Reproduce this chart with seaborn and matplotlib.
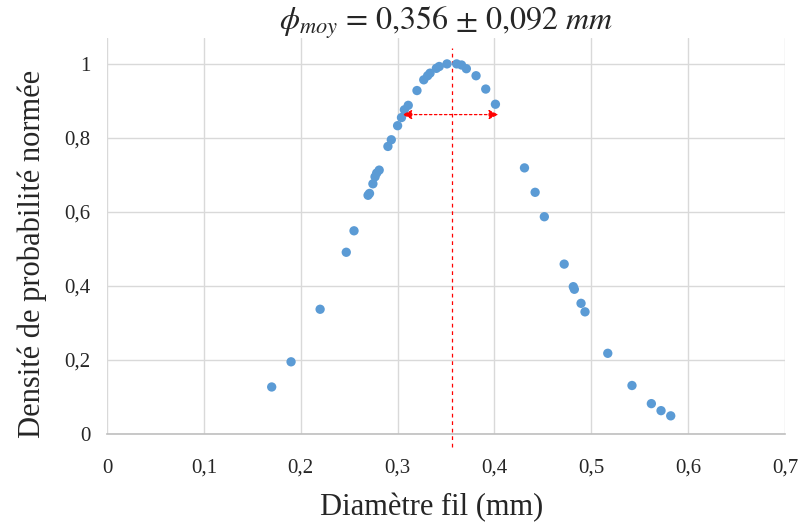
import numpy as np
import pandas as pd
import matplotlib
matplotlib.use("Agg")
import matplotlib.pyplot as plt
from matplotlib.ticker import FuncFormatter, MultipleLocator
import seaborn as sns

# donnees
diametre = [0.170, 0.190, 0.220, 0.247, 0.255, 0.2695, 0.271, 0.2745, 0.2767, 0.2784, 0.281,
            0.290, 0.2935, 0.300, 0.304, 0.307, 0.311, 0.320, 0.327, 0.331, 0.3335,
            0.340, 0.343, 0.351, 0.361, 0.366, 0.371, 0.381, 0.391, 0.401,
            0.431, 0.442, 0.4515, 0.472, 0.4814, 0.4825, 0.4894, 0.4935, 0.517,
            0.542, 0.562, 0.572, 0.582]
densite = [0.127, 0.195, 0.337, 0.491, 0.549, 0.645, 0.650, 0.676, 0.695, 0.705, 0.713,
           0.777, 0.795, 0.833, 0.855, 0.876, 0.888, 0.928, 0.957, 0.968, 0.975,
           0.988, 0.993, 1.000, 1.000, 0.997, 0.987, 0.968, 0.932, 0.891,
           0.719, 0.653, 0.587, 0.459, 0.398, 0.391, 0.353, 0.330, 0.218,
           0.131, 0.082, 0.063, 0.049]
phi_moy = 0.356
ecart = [0.305, 0.404]
y_fleche = 0.863

df = pd.DataFrame({"d": diametre, "p": densite})

sns.set_style("whitegrid")
plt.rcParams["font.family"] = ["Liberation Serif", "DejaVu Serif"]
plt.rcParams["mathtext.fontset"] = "stix"

fig = plt.figure(figsize=(8.03, 5.24), dpi=100)
ax = fig.add_axes([0.1333, 0.1718, 0.8443, 0.7557])

sns.scatterplot(data=df, x="d", y="p", ax=ax, color="#5B9BD5", s=45,
                edgecolor="none", zorder=3, clip_on=False)

ax.plot([phi_moy, phi_moy], [-0.035, 1.042], color="red", ls=(0, (3, 3)),
        lw=0.9, clip_on=False, zorder=2)
ax.annotate("", xy=(ecart[0], y_fleche), xytext=(ecart[1], y_fleche),
            arrowprops=dict(arrowstyle="<|-|>", color="red", lw=0.9,
                            ls=(0, (2, 2)), mutation_scale=14,
                            shrinkA=0, shrinkB=0), zorder=4)

ax.set_xlim(0, 0.7)
ax.set_ylim(0, 1.07)
ax.xaxis.set_major_locator(MultipleLocator(0.1))
ax.set_yticks([0, 0.2, 0.4, 0.6, 0.8, 1.0])
fmt = FuncFormatter(lambda v, p: f"{v:g}".replace(".", ","))
ax.xaxis.set_major_formatter(fmt)
ax.yaxis.set_major_formatter(fmt)

ax.grid(True, color="#d9d9d9", lw=1)
for s in ["top", "right", "left"]:
    ax.spines[s].set_visible(False)
ax.spines["bottom"].set_color("#bfbfbf")
ax.spines["bottom"].set_linewidth(1.2)
ax.tick_params(axis="x", length=0, pad=18, labelsize=15)
ax.tick_params(axis="y", length=0, pad=12, labelsize=15)

ax.set_xlabel("Diamètre fil (mm)", fontsize=22)
ax.set_ylabel("Densité de probabilité normée", fontsize=22)
ax.xaxis.set_label_coords(0.479, -0.15)
ax.yaxis.set_label_coords(-0.088, 0.455)
fig.text(0.556, 0.957, r"$\phi_{moy}$ = 0,356 $\pm$ 0,092 $mm$", fontsize=23,
         ha="center", va="center", family="STIXGeneral")

fig.savefig("out.png", dpi=100)
